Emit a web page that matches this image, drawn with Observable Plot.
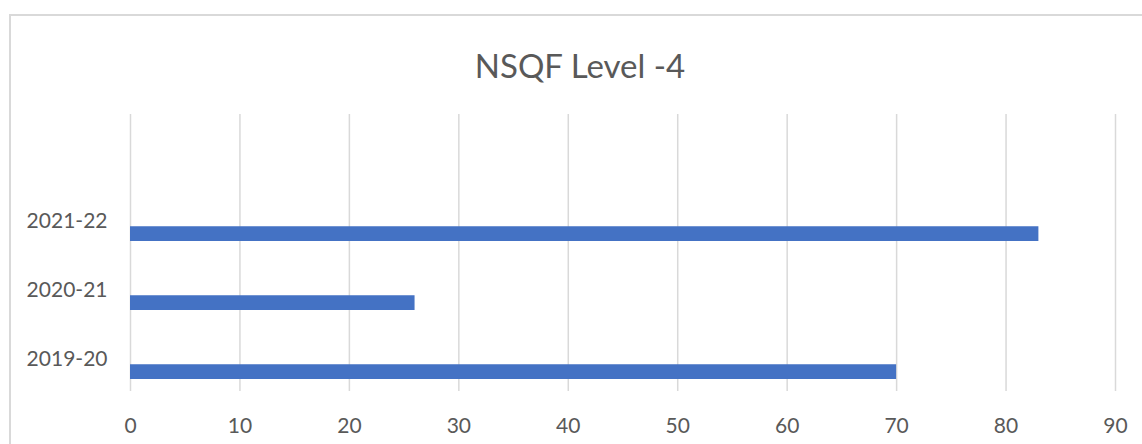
<!DOCTYPE html>
<html>
<head>
<meta charset="utf-8">
<script src="https://cdn.jsdelivr.net/npm/d3@7"></script>
<script src="https://cdn.jsdelivr.net/npm/@observablehq/plot@0.6"></script>
<style>
  html, body { margin: 0; padding: 0; background: #fff; }
  #wrap { position: relative; width: 1142px; height: 444px; overflow: hidden; font-family: Lato, "Open Sans", sans-serif; }
  #frame { position: absolute; left: 9px; top: 14px; width: 1200px; height: 500px; border-left: 2px solid #d9d9d9; border-top: 2px solid #d9d9d9; }
  #title { position: absolute; left: 0; width: 1160px; top: 45px; text-align: center; font-size: 33px; line-height: 40px; color: #595959; font-family: Lato, "Open Sans", sans-serif; }
  #chart { position: absolute; left: 0; top: 0; }
</style>
</head>
<body>
<div id="wrap">
  <div id="frame"></div>
  <div id="title">NSQF Level -4</div>
  <div id="chart"></div>
</div>
<script>
const categories = ["2019-20", "2020-21", "2021-22", " "];
const values = [70, 26, 83];
const xTicks = [0, 10, 20, 30, 40, 50, 60, 70, 80, 90];

const data = values.map((v, i) => ({ year: categories[i], value: v }));

const chart = Plot.plot({
  width: 1142,
  height: 444,
  marginLeft: 130,
  marginRight: 27,
  marginTop: 114,
  marginBottom: 53,
  style: { background: "transparent", fontFamily: "Lato, 'Open Sans', sans-serif", color: "#595959" },
  x: { domain: [0, 90], ticks: xTicks },
  y: { domain: categories, reverse: true, padding: 0 },
  marks: [
    Plot.gridX(xTicks, { stroke: "#d9d9d9", strokeOpacity: 1, strokeWidth: 1.5 }),
    Plot.barX(data, { y: "year", x: "value", fill: "#4472C4", insetTop: 42.25, insetBottom: 12 }),
    Plot.axisX({ ticks: xTicks, tickSize: 0, tickPadding: 27, fontSize: 21, fill: "#595959", label: null }),
    Plot.axisY({ ticks: categories.slice(0, 3), tickSize: 0, tickPadding: 23, fontSize: 21, fill: "#595959", label: null, dy: 2 })
  ]
});
document.getElementById("chart").appendChild(chart);
</script>
</body>
</html>
